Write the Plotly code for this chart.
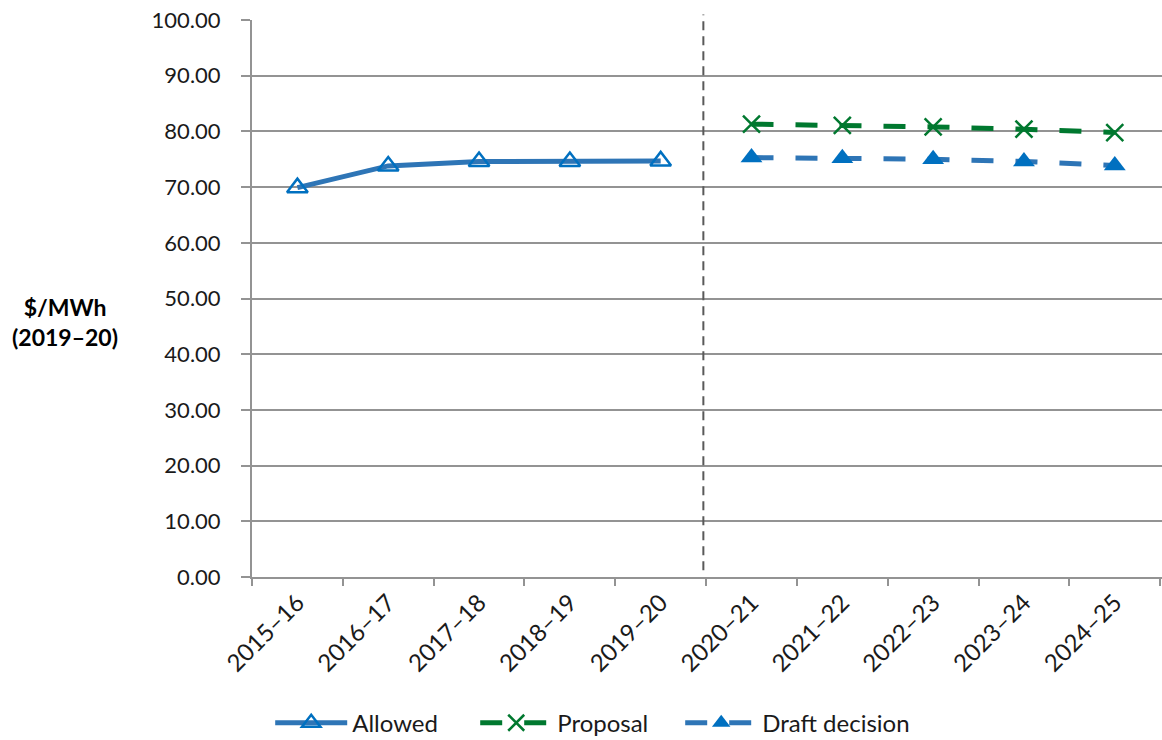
import plotly.graph_objects as go

# Financial years on the category axis
years = ["2015–16", "2016–17", "2017–18", "2018–19", "2019–20",
         "2020–21", "2021–22", "2022–23", "2023–24", "2024–25"]

# $/MWh (2019–20)
allowed_years = years[:5]
allowed = [69.9, 73.8, 74.6, 74.6, 74.7]

forecast_years = years[5:]
proposal = [81.3, 81.1, 80.8, 80.4, 79.8]
draft_decision = [75.3, 75.2, 75.0, 74.6, 73.9]

y_ticks = [0, 10, 20, 30, 40, 50, 60, 70, 80, 90, 100]

BLUE_LINE = "#2E75B6"
BLUE_MARK = "#0070C0"
GREEN = "#00782F"
GRID = "#939393"
FONT = "Lato, 'Open Sans', sans-serif"

fig = go.Figure()

fig.add_trace(go.Scatter(
    x=allowed_years, y=allowed, name="Allowed", mode="lines+markers",
    line=dict(color=BLUE_LINE, width=5), legendwidth=118,
    marker=dict(symbol="triangle-up-open", size=18, color=BLUE_MARK,
                line=dict(color=BLUE_MARK, width=2.5)),
))
fig.add_trace(go.Scatter(
    x=forecast_years, y=proposal, name="Proposal", mode="lines+markers",
    line=dict(color=GREEN, width=5, dash="22px,22px"), legendwidth=118,
    marker=dict(symbol="x-thin", size=17, color=GREEN,
                line=dict(color=GREEN, width=2.5)),
))
fig.add_trace(go.Scatter(
    x=forecast_years, y=draft_decision, name="Draft decision", mode="lines+markers",
    line=dict(color=BLUE_LINE, width=5, dash="22px,22px"), legendwidth=170,
    marker=dict(symbol="triangle-up", size=19, color=BLUE_MARK),
))

# Divider between the current and the next regulatory period
n_cat = len(years)
divider_idx = years.index("2020–21") - 0.54
x_paper = (divider_idx + 0.5) / n_cat
fig.add_shape(type="line", xref="paper", yref="paper",
              x0=x_paper, x1=x_paper, y0=0.012, y1=1.01,
              line=dict(color="#595959", width=2, dash="9px,6px"))

# Axis title placed horizontally to the left of the tick labels
fig.add_annotation(text="<b>$/MWh<br>(2019–20)</b>", xref="paper", yref="paper",
                   x=-0.2055, y=0.458, showarrow=False, xanchor="center", yanchor="middle",
                   font=dict(family=FONT, size=23, color="#000000"), align="center")

fig.update_layout(
    width=1162, height=740,
    margin=dict(l=252, r=0, t=20, b=163, autoexpand=False),
    paper_bgcolor="white", plot_bgcolor="white",
    font=dict(family=FONT, size=22, color="#1a1a1a"),
    showlegend=True,
    legend=dict(orientation="h", x=0.02, xanchor="left", y=-0.222, yanchor="top",
                font=dict(size=24, color="#1a1a1a"), itemwidth=72,
                traceorder="normal", tracegroupgap=0),
    xaxis=dict(
        type="category", categoryorder="array", categoryarray=years,
        range=[-0.5, n_cat - 0.48], automargin=False,
        tickangle=-45, tickson="boundaries", ticks="outside", ticklen=7,
        tickcolor=GRID, tickwidth=2,
        showline=True, linecolor=GRID, linewidth=2, showgrid=False,
        tickfont=dict(size=24),
    ),
    yaxis=dict(
        range=[0, 100], tickvals=y_ticks, automargin=False,
        ticktext=[f"{v:.2f}" for v in y_ticks],
        ticks="outside", ticklen=9, tickcolor=GRID, tickwidth=2,
        ticklabelstandoff=16,
        showline=True, linecolor=GRID, linewidth=2,
        showgrid=True, gridcolor=GRID, gridwidth=2,
        zeroline=False, tickfont=dict(size=22),
    ),
)

fig.write_html("out.html")
